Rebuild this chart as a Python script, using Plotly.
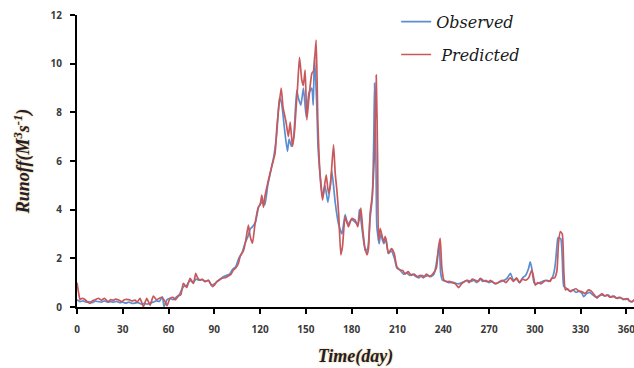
import plotly.graph_objects as go

# Observed runoff (day, value)
obs_day = [0, 2, 4, 6, 8, 10, 12, 14, 16, 18, 20, 22, 24, 26, 28, 30, 32, 34, 36, 38, 40, 42, 44, 46, 48, 50, 52, 54, 56, 57, 59, 61, 63, 65, 67, 68.5, 70, 72, 74, 76, 78, 80, 82, 84, 86, 88, 90, 92, 94, 96, 98, 100, 102, 104, 106, 108, 110, 112, 113.5, 115, 117, 119, 121, 123, 125, 127, 129, 131, 132.7, 134, 136, 137.9, 139, 140.5, 142, 144, 145, 146.7, 148.4, 150.2, 152, 153.9, 154.8, 155.6, 157, 158, 159.5, 161, 162.5, 164.4, 166, 167, 169.2, 171.4, 173.6, 175.7, 177.5, 180, 182, 184, 185.1, 187, 189, 190.5, 192, 193.5, 194.5, 195, 196, 196.5, 198, 199, 201, 202.5, 204, 206, 208, 209.6, 212, 214, 216, 218, 220, 222, 224, 226, 228, 230, 232, 234, 235.5, 237.4, 238.3, 239.5, 242, 244, 246, 248, 250, 252, 254, 256, 258, 260, 262, 264, 266, 268, 270, 272, 274, 276, 278, 280, 282, 284, 286, 288, 290, 292, 294, 296, 297, 298, 299.5, 301, 303, 305, 307, 309, 311, 312.5, 313.5, 314.5, 315.2, 317, 318, 319, 321, 323, 325, 327, 329, 331, 332, 334, 336, 338, 340, 342, 344, 346, 348, 350, 352, 354, 356, 358, 360, 362, 364, 365]
obs_val = [0.3, 0.22, 0.25, 0.2, 0.22, 0.18, 0.24, 0.22, 0.2, 0.25, 0.2, 0.22, 0.2, 0.23, 0.18, 0.2, 0.16, 0.2, 0.15, 0.16, 0.18, 0.12, 0.15, 0.12, 0.16, 0.2, 0.25, 0.23, 0.42, 0.02, 0.3, 0.35, 0.3, 0.4, 0.5, 0.7, 0.85, 0.9, 1.1, 1.0, 1.15, 1.1, 1.12, 1.05, 1.1, 0.9, 0.95, 1.05, 1.15, 1.25, 1.3, 1.35, 1.55, 1.65, 2.0, 2.2, 2.6, 2.9, 3.2, 3.3, 3.5, 4.1, 4.3, 4.2, 5.0, 5.6, 6.2, 7.2, 8.6, 8.4, 7.3, 6.4, 6.9, 6.6, 7.0, 8.9, 8.6, 8.3, 9.0, 7.8, 8.8, 9.0, 8.3, 10.3, 8.5, 6.5, 5.3, 4.5, 5.0, 4.3, 5.0, 5.6, 4.3, 3.4, 3.0, 3.8, 3.4, 3.6, 3.5, 3.4, 4.0, 3.1, 2.3, 2.4, 3.6, 4.5, 7.0, 9.2, 5.5, 3.3, 2.6, 3.0, 2.6, 2.8, 2.2, 2.3, 2.0, 1.6, 1.5, 1.35, 1.4, 1.3, 1.35, 1.25, 1.2, 1.3, 1.25, 1.3, 1.25, 1.35, 1.8, 2.55, 1.4, 1.1, 1.05, 1.0, 1.02, 0.98, 0.95, 1.0, 1.05, 1.1, 1.05, 1.1, 1.0, 1.15, 1.05, 1.1, 1.0, 1.05, 0.95, 1.0, 1.05, 1.1, 1.2, 1.38, 1.1, 1.15, 1.0, 1.2, 1.3, 1.6, 1.86, 1.6, 1.0, 0.95, 1.0, 1.05, 1.1, 1.05, 1.15, 1.4, 1.8, 2.5, 2.85, 2.8, 2.0, 0.85, 0.75, 0.65, 0.7, 0.6, 0.65, 0.55, 0.42, 0.55, 0.6, 0.5, 0.4, 0.45, 0.5, 0.45, 0.5, 0.4, 0.45, 0.35, 0.4, 0.3, 0.35, 0.25, 0.22, 0.3]

# Predicted runoff (day, value)
pred_day = [0, 1, 2, 3, 5, 7, 8.5, 10, 12, 14, 16, 18, 20.4, 22, 24, 25, 27, 29.4, 31, 34, 36, 38, 39.5, 41.3, 43.5, 45.7, 47.9, 50, 52, 54, 55.5, 57.9, 59, 61, 63, 64.3, 66.4, 68, 69.7, 71.9, 74.1, 76.3, 77.8, 79, 80.7, 82, 84, 86.2, 88.7, 90, 91.6, 93, 94.9, 97, 99.2, 101, 102.5, 104, 105.8, 107, 109, 110.5, 112.3, 113.5, 115, 116.7, 118.9, 120, 121.1, 122.2, 123, 125.4, 127.6, 129.8, 131, 133.8, 135, 137, 138.5, 139.7, 141.2, 142.5, 143.6, 144.5, 145.8, 147.3, 148.3, 149.5, 150.6, 152, 153.9, 155, 156.7, 157.8, 159.3, 160.9, 162, 163.3, 164.8, 166, 168.1, 169.2, 170.3, 171.5, 172.9, 174, 175.7, 177.9, 180, 182.3, 184, 186, 187.3, 188.5, 190, 191, 192.1, 193.5, 195, 196.1, 197, 197.6, 198.7, 200.9, 202, 204.1, 206, 207.9, 209.6, 211.8, 213.5, 215, 217, 219, 221, 223, 225, 227, 229, 231, 233.6, 235.5, 237, 238, 239.1, 240.5, 242.4, 244, 246, 248, 250, 252, 254, 255.5, 257, 259, 261, 263, 264.3, 266, 268, 269.7, 271, 273, 275.2, 277, 279, 281, 283, 284, 286, 288, 290, 292, 294, 296, 298, 299, 300.3, 302, 304, 305.8, 308, 310, 311, 313, 314.5, 315.5, 316.7, 318, 319, 320, 321.5, 323.3, 325, 327, 329, 331, 333, 335, 337, 339, 340.8, 342, 344, 346, 347.3, 349, 351, 353.8, 355, 357, 359.3, 361, 362, 363.7, 365]
pred_val = [1.0, 0.6, 0.3, 0.35, 0.32, 0.2, 0.15, 0.25, 0.3, 0.36, 0.28, 0.36, 0.22, 0.3, 0.28, 0.32, 0.3, 0.22, 0.3, 0.3, 0.25, 0.28, 0.2, 0.36, 0.01, 0.36, 0.08, 0.45, 0.3, 0.36, 0.4, 0.2, 0.05, 0.36, 0.4, 0.29, 0.45, 0.5, 0.97, 0.8, 1.18, 0.97, 1.38, 1.2, 1.1, 1.15, 1.04, 1.1, 0.84, 0.9, 1.04, 1.1, 1.18, 1.2, 1.27, 1.35, 1.52, 1.6, 1.8, 2.1, 2.3, 2.7, 3.37, 2.9, 2.62, 3.44, 4.12, 4.2, 4.6, 4.1, 4.5, 5.2, 5.77, 6.32, 7.4, 9.0, 8.2, 7.6, 7.0, 7.6, 6.6, 7.2, 8.2, 9.0, 10.26, 9.33, 9.1, 9.74, 7.69, 8.6, 9.6, 9.7, 10.97, 7.7, 5.4, 4.4, 4.9, 5.43, 4.67, 5.0, 6.66, 5.5, 4.8, 3.8, 2.14, 2.5, 3.7, 3.3, 3.64, 3.57, 3.3, 4.06, 3.16, 2.5, 2.14, 2.4, 3.85, 4.6, 6.5, 9.53, 6.0, 2.75, 3.23, 2.68, 2.9, 2.2, 2.4, 2.2, 1.66, 1.52, 1.5, 1.35, 1.45, 1.3, 1.35, 1.25, 1.3, 1.2, 1.35, 1.25, 1.4, 1.6, 2.5, 2.82, 1.6, 1.1, 1.04, 1.05, 1.0, 0.95, 0.8, 0.95, 1.05, 1.1, 1.0, 1.15, 1.1, 1.05, 1.18, 1.1, 1.05, 1.04, 1.1, 1.0, 0.97, 1.05, 1.1, 1.0, 1.15, 1.2, 1.05, 1.2, 1.0, 1.15, 1.1, 1.2, 1.52, 1.3, 0.9, 1.0, 0.95, 1.04, 1.1, 1.05, 1.18, 1.2, 1.5, 2.6, 3.1, 3.0, 1.5, 0.7, 0.75, 0.63, 0.7, 0.75, 0.65, 0.63, 0.55, 0.7, 0.65, 0.5, 0.36, 0.45, 0.55, 0.45, 0.5, 0.4, 0.45, 0.36, 0.4, 0.35, 0.31, 0.35, 0.25, 0.22, 0.3]

x_ticks = [0, 30, 60, 90, 120, 150, 180, 210, 240, 270, 300, 330, 360]
y_ticks = [0, 2, 4, 6, 8, 10, 12]

fig = go.Figure()
fig.add_trace(go.Scatter(x=obs_day, y=obs_val, mode="lines", name="Observed",
                         legendgroup="a",
                         line=dict(color="#5b8ed0", width=1.7, shape="spline", smoothing=0.5)))
fig.add_trace(go.Scatter(x=pred_day, y=pred_val, mode="lines", name=" Predicted",
                         legendgroup="b",
                         line=dict(color="#c9585a", width=1.7, shape="spline", smoothing=0.5)))

title_font = dict(family="Liberation Serif", size=18, color="#1e1e30", weight="bold",
                  style="italic", shadow="0px 0px 2px #e0b050")
tick_font = dict(family="Open Sans", size=10, color="#3a3a3a", weight="bold")

fig.update_layout(
    width=634, height=368,
    margin=dict(l=77, r=0, t=15, b=61),
    paper_bgcolor="white", plot_bgcolor="white",
    showlegend=True,
    legend=dict(x=0.573, y=1.035, xanchor="left", yanchor="top",
                bgcolor="rgba(0,0,0,0)", tracegroupgap=9, traceorder="grouped",
                font=dict(family="DejaVu Serif", size=16, color="#1a1a1a", style="italic")),
    xaxis=dict(range=[0, 365], tickvals=x_ticks, ticks="outside", ticklen=5, tickwidth=2,
               tickcolor="black", showline=True, linecolor="black", linewidth=2,
               showgrid=False, zeroline=False, tickfont=tick_font, ticklabeloverflow="allow",
               ticklabelstandoff=7,
               title=dict(text="Time(day)", font=title_font, standoff=14)),
    yaxis=dict(range=[0, 12], tickvals=y_ticks, ticks="outside", ticklen=5, tickwidth=2,
               tickcolor="black", showline=True, linecolor="black", linewidth=2,
               showgrid=False, zeroline=False, tickfont=tick_font, ticklabelstandoff=6,
               title=dict(text="Runoff(M<sup>3</sup>s<sup>-1</sup>)", font=title_font, standoff=16)),
)

fig.write_html("out.html", config={"displayModeBar": False},
               post_script="document.body.style.margin='0';document.body.style.overflow='hidden';")
